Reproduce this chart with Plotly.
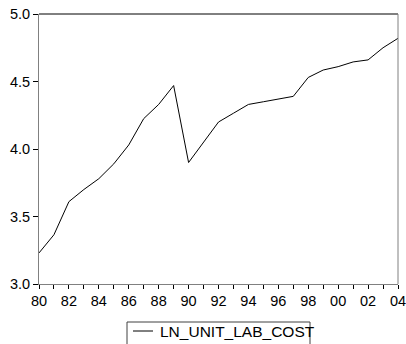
import plotly.graph_objects as go

years = list(range(1980, 2005))
ln_unit_lab_cost = [3.23, 3.365, 3.61, 3.70, 3.78, 3.89, 4.03, 4.225, 4.33, 4.47,
                    3.90, 4.05, 4.20, 4.265, 4.33, 4.35, 4.37, 4.39, 4.53, 4.585,
                    4.61, 4.645, 4.66, 4.75, 4.82]
series_name = "LN_UNIT_LAB_COST"
y_ticks = [3.0, 3.5, 4.0, 4.5, 5.0]
x_tick_text = [f"{y % 100:02d}" if (y - 1980) % 2 == 0 else "" for y in years]

W, H = 406, 344
ML, MR, MT, MB = 39, 8, 14, 60

fig = go.Figure()
fig.add_trace(go.Scatter(x=years, y=ln_unit_lab_cost, mode="lines",
                         line=dict(color="black", width=1), name=series_name,
                         showlegend=False))

font = dict(family="Liberation Sans, Arial", size=14.5, color="black")
fig.update_layout(
    width=W, height=H, margin=dict(l=ML, r=MR, t=MT, b=MB, autoexpand=False),
    paper_bgcolor="white", plot_bgcolor="white", font=font,
    xaxis=dict(range=[1980, 2004], tickvals=years, ticktext=x_tick_text,
               ticks="outside", ticklen=4, tickcolor="black", tickwidth=1,
               showgrid=False, zeroline=False, showline=True, linecolor="#808080",
               linewidth=1, mirror=False, tickfont=font, fixedrange=True,
               ticklabeloverflow="allow"),
    yaxis=dict(range=[3.0, 5.0], tickvals=y_ticks,
               ticktext=[f"{v:.1f}" for v in y_ticks],
               ticks="outside", ticklen=5, tickcolor="black", tickwidth=1,
               showgrid=False, zeroline=False, showline=True, linecolor="#808080",
               linewidth=1, tickfont=font, fixedrange=True,
               ticklabeloverflow="allow"),
)

# frame: top black, right gray
fig.add_shape(type="line", xref="paper", yref="paper", x0=0, x1=1, y0=1, y1=1,
              line=dict(color="black", width=1))
fig.add_shape(type="line", xref="paper", yref="paper", x0=1, x1=1, y0=0, y1=1,
              line=dict(color="#808080", width=1))

# legend box (manual)
pw = W - ML - MR
ph = H - MT - MB
def px(x):
    return (x - ML) / pw
def py(y):
    return (H - MB - y) / ph

fig.add_shape(type="rect", xref="paper", yref="paper",
              x0=px(127), x1=px(310), y0=py(322), y1=py(352),
              line=dict(color="#404040", width=1), fillcolor="white")
fig.add_shape(type="line", xref="paper", yref="paper",
              x0=px(133), x1=px(153), y0=py(331), y1=py(331),
              line=dict(color="black", width=1))
fig.add_annotation(xref="paper", yref="paper", x=px(158), y=py(331),
                   xanchor="left", yanchor="middle", text=series_name,
                   showarrow=False, font=dict(family="Liberation Sans, Arial", size=15.5, color="black"))

fig.write_html("out.html")
